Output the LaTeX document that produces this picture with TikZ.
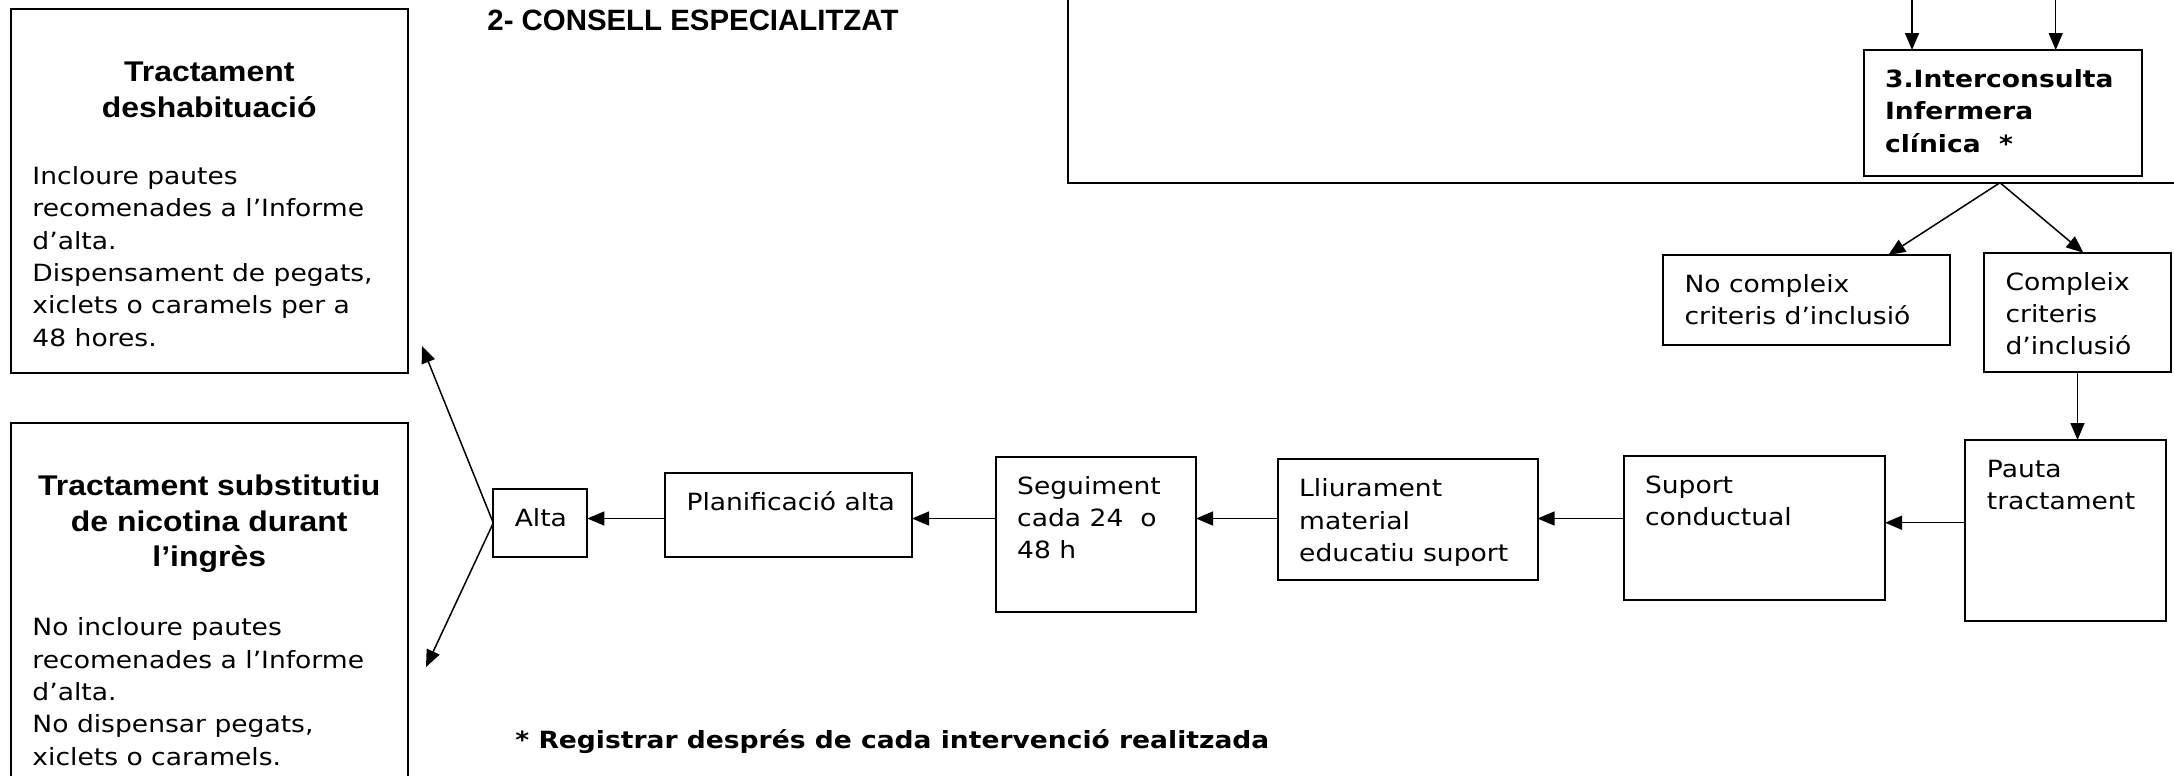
\documentclass[tikz,border=0pt]{standalone}
\usepackage{fontspec}
\setmainfont{DejaVu Sans}[FakeStretch=1.12]
\newfontfamily\arialfam{Liberation Sans}[FakeStretch=1.12]
\newfontfamily\headfam{Liberation Sans}
\usetikzlibrary{arrows.meta}

\newcommand{\bodysize}{\fontsize{11.85pt}{16.2pt}\selectfont}
\newcommand{\titlefont}{\arialfam\bfseries\fontsize{14.25pt}{17.75pt}\selectfont}
\newcommand{\boxtxt}[3]{\parbox[c][#2][t]{#1}{\raggedright\leftskip=10.75pt\rule{0pt}{18.65pt}#3}}
\newcommand{\treattxt}[4]{\parbox[c][#1][t]{198.75pt}{\centering\titlefont\rule{0pt}{36.2pt}#2\par
  \vspace{#3}\raggedright\leftskip=11pt\normalfont\bodysize #4}}

\begin{document}
\begin{tikzpicture}[x=0.5pt,y=-0.5pt,>={Triangle[length=8.5pt,width=7pt]},
  font=\bodysize,
  box/.style={draw,line width=1pt,inner sep=0pt,outer sep=0pt,anchor=north west},
  link/.style={->,line width=0.75pt}]

\useasboundingbox (0,0) rectangle (2174,776);
\clip (0,0) rectangle (2174,776);

\node[box] (treatA) at (10.5,9.3) {\treattxt{181.7pt}{Tractament\\deshabituació}{17.35pt}{Incloure pautes\\recomenades a l’Informe\\d’alta.\\Dispensament de pegats,\\xiclets o caramels per a\\48 hores.}};
\node[box] (treatB) at (10.5,423.3) {\treattxt{190pt}{Tractament substitutiu\\de nicotina durant\\l’ingrès}{18.3pt}{No incloure pautes\\recomenades a l’Informe\\d’alta.\\No dispensar pegats,\\xiclets o caramels.}};

\node[anchor=base west,inner sep=0pt,font={\headfam\bfseries\fontsize{14.7pt}{17pt}\selectfont}] (head) at (487,30) {2- CONSELL ESPECIALITZAT};

\draw[line width=1pt] (1067.7,-20) |- (2200,182.7);

\node[box] (inter) at (1863.6,50) {\boxtxt{139.1pt}{62.85pt}{\bfseries 3.Interconsulta\\Infermera\\clínica\ \ *}};
\node[box] (noc) at (1663,255) {\boxtxt{143.5pt}{45pt}{No compleix\\criteris d’inclusió}};
\node[box] (comp) at (1984,252.7) {\boxtxt{93.5pt}{59.5pt}{Compleix\\criteris\\d’inclusió}};
\node[box] (pauta) at (1965.4,440) {\boxtxt{100.3pt}{90.5pt}{Pauta\\tractament}};
\node[box] (suport) at (1623.5,456) {\boxtxt{130.75pt}{72pt}{Suport\\conductual}};
\node[box] (lliur) at (1277.7,459.3) {\boxtxt{129.9pt}{60.35pt}{Lliurament\\material\\educatiu suport}};
\node[box] (segu) at (995.7,456.7) {\boxtxt{100.15pt}{77.5pt}{Seguiment\\cada 24\ \ o\\48 h}};
\node[box] (plan) at (665,473.3) {\boxtxt{123.5pt}{41.7pt}{Planificació alta}};
\node[box] (alta) at (493.3,489.3) {\boxtxt{47pt}{33.7pt}{Alta}};

\node[anchor=base west,inner sep=0pt,font={\bodysize\bfseries}] (note) at (515,748) {* Registrar després de cada intervenció realitzada};

\coordinate (inA) at (1912,-5);
\coordinate (inB) at (2055.7,-5);
\coordinate (fork) at (2000,182.7);
\coordinate (tipL) at (1888.3,0);
\coordinate (tipR) at (2083.3,0);
\coordinate (row) at (0,518.5);
\coordinate (prow) at (0,522.7);
\coordinate (upA) at (422,346);
\coordinate (downB) at (426,667);

\path[link] (inA) edge (inA |- inter.north)
  (inB) edge (inB |- inter.north)
  (fork) edge (tipL |- noc.north)
  (fork) edge (tipR |- comp.north)
  (comp.south) edge (comp.south |- pauta.north)
  (pauta.west |- prow) edge (suport.east |- prow)
  (suport.west |- row) edge (lliur.east |- row)
  (lliur.west |- row) edge (segu.east |- row)
  (segu.west |- row) edge (plan.east |- row)
  (plan.west |- row) edge (alta.east |- row)
  (alta.west) edge (upA)
  (alta.west) edge (downB);

\end{tikzpicture}
\end{document}
